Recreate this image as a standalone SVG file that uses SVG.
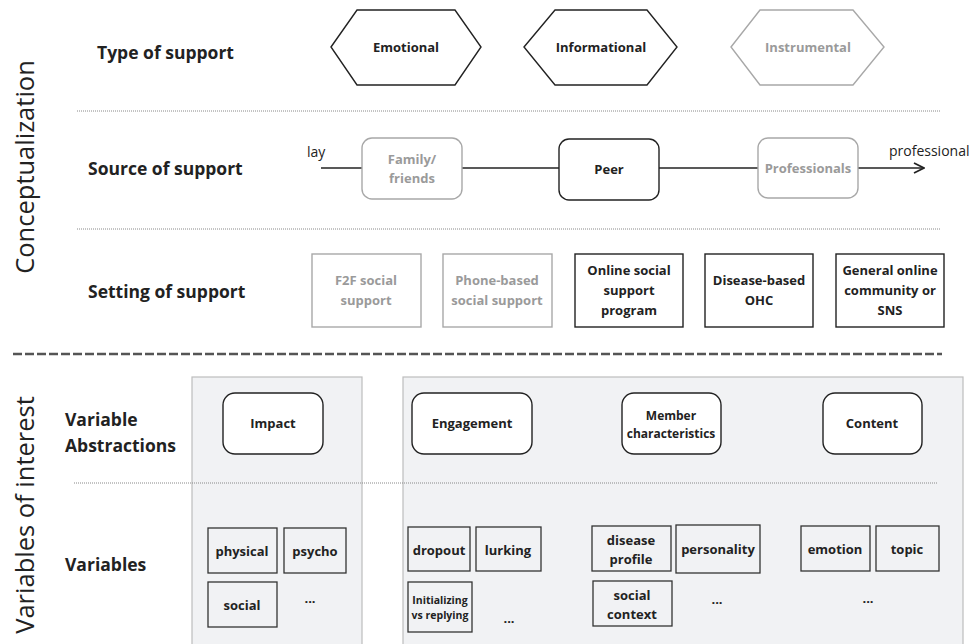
<svg xmlns="http://www.w3.org/2000/svg" width="969" height="644" viewBox="0 0 969 644">
<defs>
<marker id="arr" viewBox="0 0 12 12" refX="11" refY="6" markerWidth="12" markerHeight="12" markerUnits="userSpaceOnUse" orient="auto">
<path d="M1,1 L11,6 L1,11" fill="none" stroke="#222" stroke-width="1.8"/>
</marker>
<style>
text{font-family:"Open Sans","Liberation Sans",sans-serif;fill:#222}
.lbl{font-size:17.5px;font-weight:700}
.side{font-size:25.5px;font-weight:400}
.b{font-size:13px;font-weight:700;text-anchor:middle}
.g{fill:#9a9a9a}
.k{fill:#fff;stroke:#222;stroke-width:1.4}
.gr{fill:#fff;stroke:#a8a8a8;stroke-width:1.4}
.vk{fill:none;stroke:#333;stroke-width:1.3}
.dot{stroke:#888;stroke-width:1;stroke-dasharray:1 1;fill:none}
.panel{fill:#f1f2f4;stroke:#bdbdbd;stroke-width:1.2}
.n{font-size:14px;font-weight:400}
</style>
</defs>
<rect width="969" height="644" fill="#fff"/>

<g id="side-labels">
<text class="side" transform="translate(34,167) rotate(-90)" text-anchor="middle">Conceptualization</text>
<text class="side" transform="translate(34,515) rotate(-90)" text-anchor="middle">Variables of interest</text>
</g>

<g id="row-labels">
<text class="lbl" x="97" y="59">Type of support</text>
<text class="lbl" x="88" y="175">Source of support</text>
<text class="lbl" x="88" y="298">Setting of support</text>
<text class="lbl" x="65" y="426">Variable</text>
<text class="lbl" x="65" y="452">Abstractions</text>
<text class="lbl" x="65" y="571">Variables</text>
</g>

<g id="separators">
<line class="dot" x1="77" y1="111" x2="940" y2="111"/>
<line class="dot" x1="77" y1="229" x2="940" y2="229"/>
<line x1="13" y1="354" x2="942" y2="354" stroke="#555" stroke-width="2.5" stroke-dasharray="9 3"/>
</g>

<g id="panels">
<rect class="panel" x="192" y="377" width="170" height="280"/>
<rect class="panel" x="403" y="377" width="560" height="280"/>
<line class="dot" x1="74" y1="483" x2="937" y2="483"/>
</g>

<g id="connectors">
<line x1="321" y1="168" x2="924" y2="168" stroke="#222" stroke-width="1.6" marker-end="url(#arr)"/>
</g>

<g id="hex-emotional">
<polygon class="k" points="331,47 357,10 455,10 481,47 455,85 357,85"/>
<text class="b" x="406" y="52">Emotional</text>
</g>
<g id="hex-informational">
<polygon class="k" points="524,47 555,10 647,10 677,47 647,85 555,85"/>
<text class="b" x="601" y="52">Informational</text>
</g>
<g id="hex-instrumental">
<polygon class="gr" points="731,47 760,10 853,10 884,47 853,85 760,85"/>
<text class="b g" x="808" y="52">Instrumental</text>
</g>

<g id="lay-label"><text class="n" x="307" y="157">lay</text></g>
<g id="professional-label"><text class="n" x="889" y="156">professional</text></g>

<g id="src-family">
<rect class="gr" x="362" y="138" width="100" height="61" rx="10"/>
<text class="b g" x="412" y="164">Family/</text>
<text class="b g" x="412" y="183">friends</text>
</g>
<g id="src-peer">
<rect class="k" x="559" y="139" width="100" height="61" rx="10"/>
<text class="b" x="609" y="174">Peer</text>
</g>
<g id="src-professionals">
<rect class="gr" x="758" y="138" width="100" height="60" rx="10"/>
<text class="b g" x="808" y="173">Professionals</text>
</g>

<g id="set-f2f">
<rect class="gr" x="312" y="254" width="109" height="73"/>
<text class="b g" x="366" y="285">F2F social</text>
<text class="b g" x="366" y="305">support</text>
</g>
<g id="set-phone">
<rect class="gr" x="443" y="254" width="109" height="73"/>
<text class="b g" x="497" y="285">Phone-based</text>
<text class="b g" x="497" y="305">social support</text>
</g>
<g id="set-online">
<rect class="k" x="575" y="254" width="108" height="73"/>
<text class="b" x="629" y="275">Online social</text>
<text class="b" x="629" y="295">support</text>
<text class="b" x="629" y="315">program</text>
</g>
<g id="set-disease">
<rect class="k" x="705" y="254" width="108" height="73"/>
<text class="b" x="759" y="285">Disease-based</text>
<text class="b" x="759" y="305">OHC</text>
</g>
<g id="set-general">
<rect class="k" x="836" y="254" width="108" height="73"/>
<text class="b" x="890" y="275">General online</text>
<text class="b" x="890" y="295">community or</text>
<text class="b" x="890" y="315">SNS</text>
</g>

<g id="abs-impact">
<rect class="k" x="223" y="393" width="100" height="61" rx="12"/>
<text class="b" x="273" y="428">Impact</text>
</g>
<g id="abs-engagement">
<rect class="k" x="412" y="393" width="120" height="61" rx="12"/>
<text class="b" x="472" y="428">Engagement</text>
</g>
<g id="abs-member">
<rect class="k" x="622" y="393" width="99" height="61" rx="12"/>
<text class="b" x="671" y="420" style="font-size:12px">Member</text>
<text class="b" x="671" y="438" style="font-size:12px">characteristics</text>
</g>
<g id="abs-content">
<rect class="k" x="823" y="393" width="99" height="61" rx="12"/>
<text class="b" x="872" y="428">Content</text>
</g>

<g id="var-physical"><rect class="vk" x="208" y="528" width="69" height="45"/><text class="b" x="242" y="556">physical</text></g>
<g id="var-psycho"><rect class="vk" x="284" y="528" width="62" height="45"/><text class="b" x="315" y="556">psycho</text></g>
<g id="var-social"><rect class="vk" x="208" y="582" width="69" height="45"/><text class="b" x="242" y="610">social</text></g>
<g id="var-impact-more"><text class="b" x="310" y="603">...</text></g>

<g id="var-dropout"><rect class="vk" x="408" y="527" width="62" height="44"/><text class="b" x="439" y="555">dropout</text></g>
<g id="var-lurking"><rect class="vk" x="476" y="527" width="65" height="44"/><text class="b" x="508" y="555">lurking</text></g>
<g id="var-init"><rect class="vk" x="408" y="582" width="64" height="50"/>
<text class="b" x="440" y="604" style="font-size:10.5px">Initializing</text>
<text class="b" x="440" y="619" style="font-size:10.5px">vs replying</text></g>
<g id="var-engagement-more"><text class="b" x="509" y="623">...</text></g>

<g id="var-disease"><rect class="vk" x="592" y="526" width="79" height="45"/>
<text class="b" x="631" y="545">disease</text><text class="b" x="631" y="564">profile</text></g>
<g id="var-personality"><rect class="vk" x="676" y="525" width="84" height="48"/><text class="b" x="718" y="554">personality</text></g>
<g id="var-socialctx"><rect class="vk" x="593" y="581" width="79" height="45"/>
<text class="b" x="632" y="600">social</text><text class="b" x="632" y="619">context</text></g>
<g id="var-member-more"><text class="b" x="717" y="604">...</text></g>

<g id="var-emotion"><rect class="vk" x="801" y="526" width="69" height="45"/><text class="b" x="835" y="554">emotion</text></g>
<g id="var-topic"><rect class="vk" x="876" y="526" width="63" height="45"/><text class="b" x="907" y="554">topic</text></g>
<g id="var-content-more"><text class="b" x="868" y="603">...</text></g>
</svg>
